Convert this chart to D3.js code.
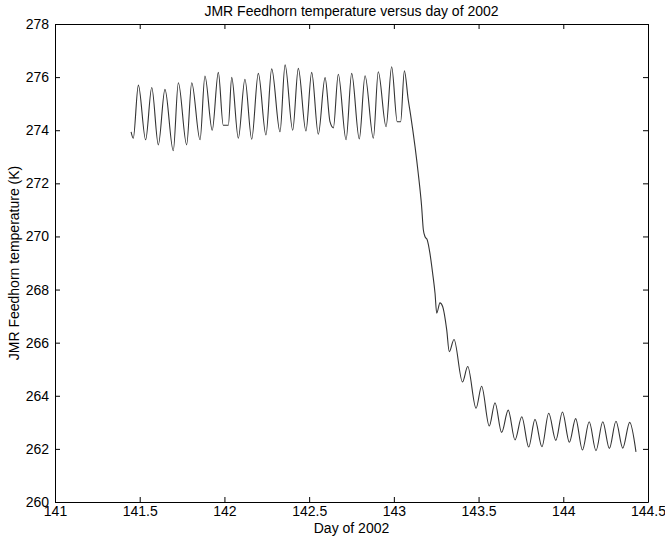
<!DOCTYPE html>
<html>
<head>
<meta charset="utf-8">
<script src="https://cdn.jsdelivr.net/npm/d3@7"></script>
<style>
  body { margin: 0; background: #fff; }
  svg text { font-family: "Liberation Sans", Arial, sans-serif; fill: #000; }
</style>
</head>
<body>
<svg id="chart"></svg>
<script>
// day of 2002 for each turning point
const days = [
  141.449, 141.462, 141.492, 141.535, 141.571, 141.610, 141.649, 141.698, 141.728, 141.777,
  141.807, 141.856, 141.885, 141.928, 141.964, 141.993, 142.023, 142.043, 142.082, 142.121,
  142.161, 142.200, 142.245, 142.279, 142.328, 142.358, 142.403, 142.436, 142.481, 142.515,
  142.554, 142.594, 142.623, 142.643, 142.672, 142.718, 142.751, 142.796, 142.830, 142.879,
  142.908, 142.954, 142.987, 143.020, 143.040, 143.062, 143.085, 143.099, 143.125, 143.144,
  143.164, 143.174, 143.184, 143.197, 143.213, 143.229, 143.243, 143.253, 143.272, 143.288,
  143.312, 143.327, 143.355, 143.405, 143.436, 143.485, 143.518, 143.563, 143.597, 143.636,
  143.675, 143.715, 143.755, 143.796, 143.833, 143.874, 143.914, 143.956, 143.995, 144.036,
  144.073, 144.113, 144.153, 144.193, 144.233, 144.272, 144.311, 144.351, 144.392, 144.429
];
// feedhorn temperature (K)
const temps = [
  273.94, 273.70, 275.70, 273.64, 275.61, 273.45, 275.54, 273.23, 275.79, 273.45,
  275.79, 273.64, 276.04, 274.00, 276.18, 274.19, 274.19, 275.99, 273.70, 275.92,
  273.66, 276.14, 273.82, 276.31, 273.94, 276.46, 274.00, 276.33, 273.97, 276.18,
  273.85, 275.98, 274.32, 274.09, 276.11, 273.64, 276.14, 273.67, 276.05, 273.70,
  276.20, 274.13, 276.39, 274.32, 274.32, 276.24, 275.14, 274.57, 273.38, 272.37,
  271.12, 270.25, 269.99, 269.87, 269.36, 268.61, 267.86, 267.11, 267.50, 267.36,
  266.48, 265.66, 266.12, 264.52, 265.10, 263.53, 264.36, 262.86, 263.74, 262.62,
  263.46, 262.34, 263.21, 262.07, 263.11, 262.08, 263.34, 262.32, 263.39, 262.25,
  263.14, 261.96, 263.02, 261.93, 263.02, 262.02, 263.04, 262.03, 263.00, 261.89
];

const xTicks = [141, 141.5, 142, 142.5, 143, 143.5, 144, 144.5];
const yTicks = [260, 262, 264, 266, 268, 270, 272, 274, 276, 278];

const title = "JMR Feedhorn temperature versus day of 2002";
const xLabel = "Day of 2002";
const yLabel = "JMR Feedhorn temperature (K)";

let width = 665, height = 539;
let margin = ({top: 24, right: 17, bottom: 37, left: 55});

const svg = d3.select('#chart').attr('width', width).attr('height', height);

let x = d3.scaleLinear()
  .domain([141, 144.5])
  .range([margin.left, width - margin.right]);

let y = d3.scaleLinear()
  .domain([260, 278])
  .range([height - margin.bottom, margin.top]);

let data = days.map((d, i) => ({day: d, temp: temps[i]}));

let line = d3.line()
  .x(d => x(d.day))
  .y(d => y(d.temp))
  .curve(d3.curveMonotoneX);

svg.append('path')
  .datum(data)
  .attr('fill', 'none')
  .attr('stroke', '#333')
  .attr('stroke-width', 1.1)
  .attr('d', line);

let styleAxis = g => {
  g.selectAll('.domain').attr('stroke', '#000');
  g.selectAll('.tick line').attr('stroke', '#000');
  g.selectAll('text').attr('font-size', 14).attr('font-family', '"Liberation Sans", Arial, sans-serif');
};

svg.append('g')
  .attr('transform', `translate(0,${height - margin.bottom})`)
  .call(d3.axisBottom(x).tickValues(xTicks).tickFormat(d => d).tickSizeInner(-5).tickSizeOuter(0).tickPadding(4))
  .call(styleAxis);

svg.append('g')
  .attr('transform', `translate(0,${margin.top})`)
  .call(d3.axisTop(x).tickValues(xTicks).tickFormat('').tickSizeInner(-5).tickSizeOuter(0))
  .call(styleAxis);

svg.append('g')
  .attr('transform', `translate(${margin.left},0)`)
  .call(d3.axisLeft(y).tickValues(yTicks).tickFormat(d => d).tickSizeInner(-5).tickSizeOuter(0).tickPadding(6))
  .call(styleAxis);

svg.append('g')
  .attr('transform', `translate(${width - margin.right},0)`)
  .call(d3.axisRight(y).tickValues(yTicks).tickFormat('').tickSizeInner(-5).tickSizeOuter(0))
  .call(styleAxis);

svg.append('text')
  .attr('x', (margin.left + width - margin.right) / 2)
  .attr('y', 16)
  .attr('text-anchor', 'middle')
  .attr('font-size', 14)
  .text(title);

svg.append('text')
  .attr('x', (margin.left + width - margin.right) / 2)
  .attr('y', 533)
  .attr('text-anchor', 'middle')
  .attr('font-size', 14)
  .text(xLabel);

svg.append('text')
  .attr('transform', `translate(19,${(margin.top + height - margin.bottom) / 2}) rotate(-90)`)
  .attr('text-anchor', 'middle')
  .attr('font-size', 14)
  .text(yLabel);
</script>
</body>
</html>
